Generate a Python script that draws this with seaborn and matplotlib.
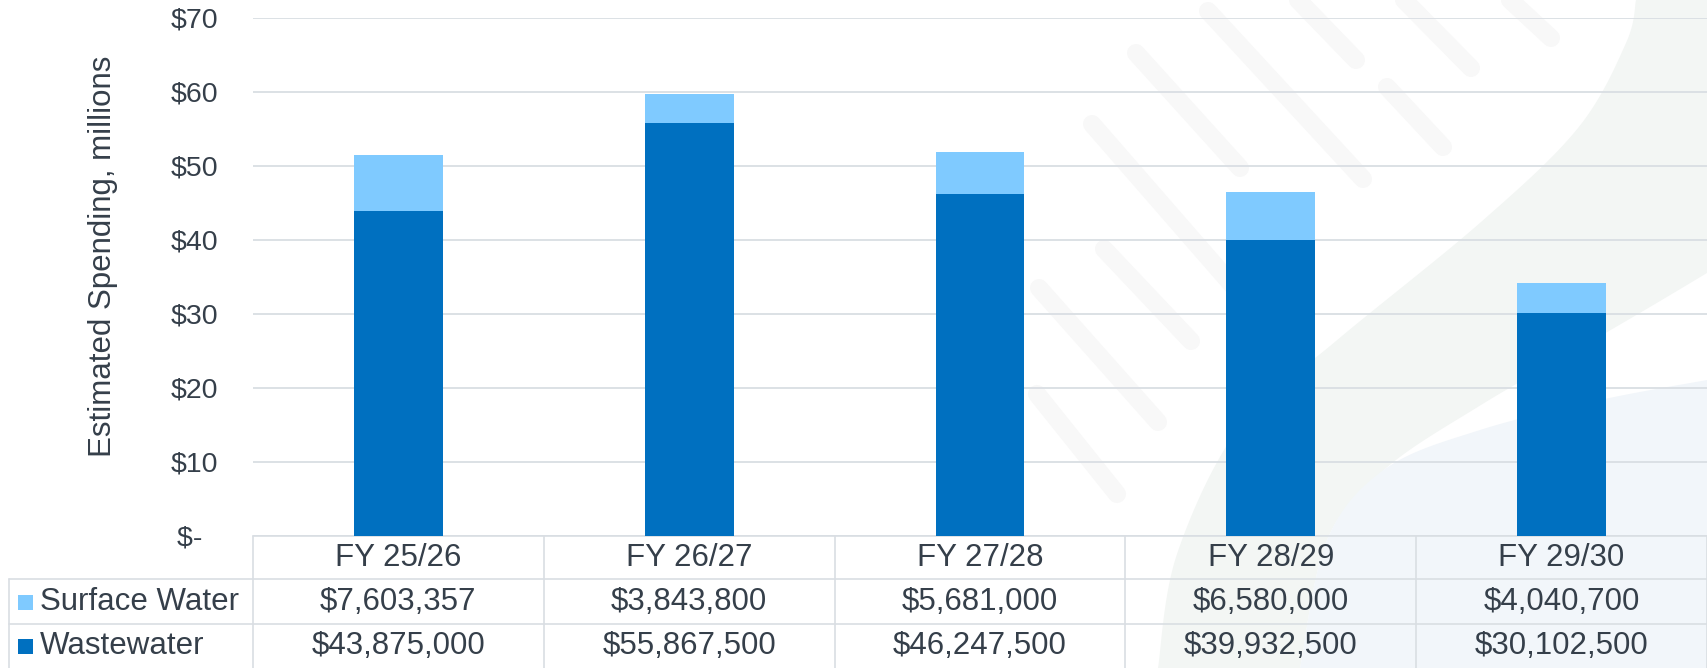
import numpy as np
import pandas as pd
import matplotlib
matplotlib.use("Agg")
import matplotlib.pyplot as plt
import seaborn as sns

# ---------------- data ----------------
categories = ["FY 25/26", "FY 26/27", "FY 27/28", "FY 28/29", "FY 29/30"]
surface_water = [7603357, 3843800, 5681000, 6580000, 4040700]
wastewater = [43875000, 55867500, 46247500, 39932500, 30102500]
series_names = ["Surface Water", "Wastewater"]
y_ticks = [0, 10, 20, 30, 40, 50, 60, 70]
y_tick_labels = ["$-  ", "$10", "$20", "$30", "$40", "$50", "$60", "$70"]
y_label = "Estimated Spending, millions"

# ---------------- style ----------------
DARK = "#0070C0"
LIGHT = "#7FCAFF"
TEXT = "#353F4A"
GRID = "#D9DEE3"

sns.set_theme(style="white")
plt.rcParams["font.family"] = ["Liberation Sans", "DejaVu Sans"]

W, H = 1707, 668
fig = plt.figure(figsize=(W / 100, H / 100), dpi=100)
fig.patch.set_facecolor("white")


def smooth(pts, n=20):
    """Catmull-Rom smoothing of a decorative outline."""
    p = np.array(pts, dtype=float)
    p = np.vstack([p[0], p, p[-1]])
    out = []
    for i in range(1, len(p) - 2):
        p0, p1, p2, p3 = p[i - 1], p[i], p[i + 1], p[i + 2]
        for t in np.linspace(0, 1, n, endpoint=False):
            t2, t3 = t * t, t * t * t
            out.append(0.5 * ((2 * p1) + (-p0 + p2) * t + (2 * p0 - 5 * p1 + 4 * p2 - p3) * t2
                              + (-p0 + 3 * p1 - 3 * p2 + p3) * t3))
    out.append(p[-2])
    return np.array(out)


# background decoration layer (pixel coordinates, y downward)
bg = fig.add_axes([0, 0, 1, 1], zorder=0)
bg.set_xlim(0, W)
bg.set_ylim(H, 0)
bg.axis("off")

outer = smooth([(1158, 668), (1177, 554), (1240, 426), (1336, 341), (1481, 222),
                (1578, 128), (1626, 43), (1636, 0)])
inner = smooth([(1707, 273), (1650, 307), (1578, 349), (1481, 405), (1385, 469),
                (1327, 540), (1300, 668)])
gray_band = np.vstack([outer, [[1707, 0]], inner])
blue_upper = smooth([(1300, 668), (1327, 540), (1385, 469), (1480, 430), (1600, 400), (1707, 380)])
blue_band = np.vstack([blue_upper, [[1707, 668]]])
bg.add_patch(plt.Polygon(gray_band, closed=True, facecolor="#F3F6F4", edgecolor="none"))
bg.add_patch(plt.Polygon(blue_band, closed=True, facecolor="#F2F6FA", edgecolor="none"))
stripes = [((1136, 53), (1240, 168)), ((1208, 11), (1363, 179)), ((1298, 0), (1356, 60)),
           ((1404, 0), (1471, 68)), ((1510, 0), (1551, 38)), ((1387, 87), (1443, 147)),
           ((1092, 124), (1240, 294)), ((1104, 249), (1191, 341)), ((1039, 288), (1158, 422)),
           ((1037, 394), (1117, 494))]
for (x0, y0), (x1, y1) in stripes:
    bg.plot([x0, x1], [y0, y1], color="#F8F8F8", lw=13, solid_capstyle="round", zorder=1)

# ---------------- main chart ----------------
left_px, top_px, zero_px = 253, 18, 536
ax = fig.add_axes([left_px / W, 1 - zero_px / H, (W - left_px) / W, (zero_px - top_px) / H], zorder=2)
ax.patch.set_alpha(0)

df = pd.DataFrame({
    "category": categories,
    series_names[0]: np.array(surface_water) / 1e6,
    series_names[1]: np.array(wastewater) / 1e6,
})
df["total"] = df[series_names[0]] + df[series_names[1]]

bw = 0.305
sns.barplot(data=df, x="category", y="total", color=LIGHT, saturation=1, width=bw,
            linewidth=0, ax=ax, zorder=3)
sns.barplot(data=df, x="category", y=series_names[1], color=DARK, saturation=1, width=bw,
            linewidth=0, ax=ax, zorder=4)

ax.set_xlim(-0.5, len(categories) - 0.5)
ax.set_ylim(0, 70)
ax.set_yticks(y_ticks)
ax.set_yticklabels(y_tick_labels, fontsize=20.5, color=TEXT)
ax.tick_params(axis="y", length=0, pad=25)
ax.set_xticks([])
ax.set_xlabel("")
ax.yaxis.grid(True, color=GRID, linewidth=1.3, zorder=1)
ax.set_axisbelow(True)
for s in ax.spines.values():
    s.set_visible(False)
ax.set_ylabel(y_label, fontsize=22.5, color=TEXT)
ax.yaxis.set_label_coords(-0.093, 0.54)

# ---------------- data table ----------------
col_w = (W - left_px) / len(categories)
rows_y = [zero_px, 579, 624, H]
lw_t = 1.2
bg.plot([left_px, W], [zero_px, zero_px], color=GRID, lw=lw_t, zorder=5)
for yy in rows_y[1:3]:
    bg.plot([9, W], [yy, yy], color=GRID, lw=lw_t, zorder=5)
bg.plot([9, 9], [rows_y[1], H], color=GRID, lw=lw_t, zorder=5)
for i in range(len(categories) + 1):
    xx = left_px + i * col_w
    bg.plot([xx, xx], [zero_px, H], color=GRID, lw=lw_t, zorder=5)

for i, cat in enumerate(categories):
    cx = left_px + (i + 0.5) * col_w
    bg.text(cx, (rows_y[0] + rows_y[1]) / 2, cat, ha="center", va="center",
            fontsize=22.5, color=TEXT, zorder=6)
    bg.text(cx, (rows_y[1] + rows_y[2]) / 2, f"${surface_water[i]:,}", ha="center",
            va="center", fontsize=22.5, color=TEXT, zorder=6)
    bg.text(cx, (rows_y[2] + rows_y[3]) / 2, f"${wastewater[i]:,}", ha="center",
            va="center", fontsize=22.5, color=TEXT, zorder=6)

for r, (name, col) in enumerate(zip(series_names, [LIGHT, DARK])):
    yc = (rows_y[r + 1] + rows_y[r + 2]) / 2
    bg.add_patch(plt.Rectangle((18, yc - 7), 15, 15, facecolor=col, edgecolor="none", zorder=6))
    bg.text(40, yc, name, ha="left", va="center", fontsize=22.5, color=TEXT, zorder=6)

fig.savefig("out.png", dpi=100)
